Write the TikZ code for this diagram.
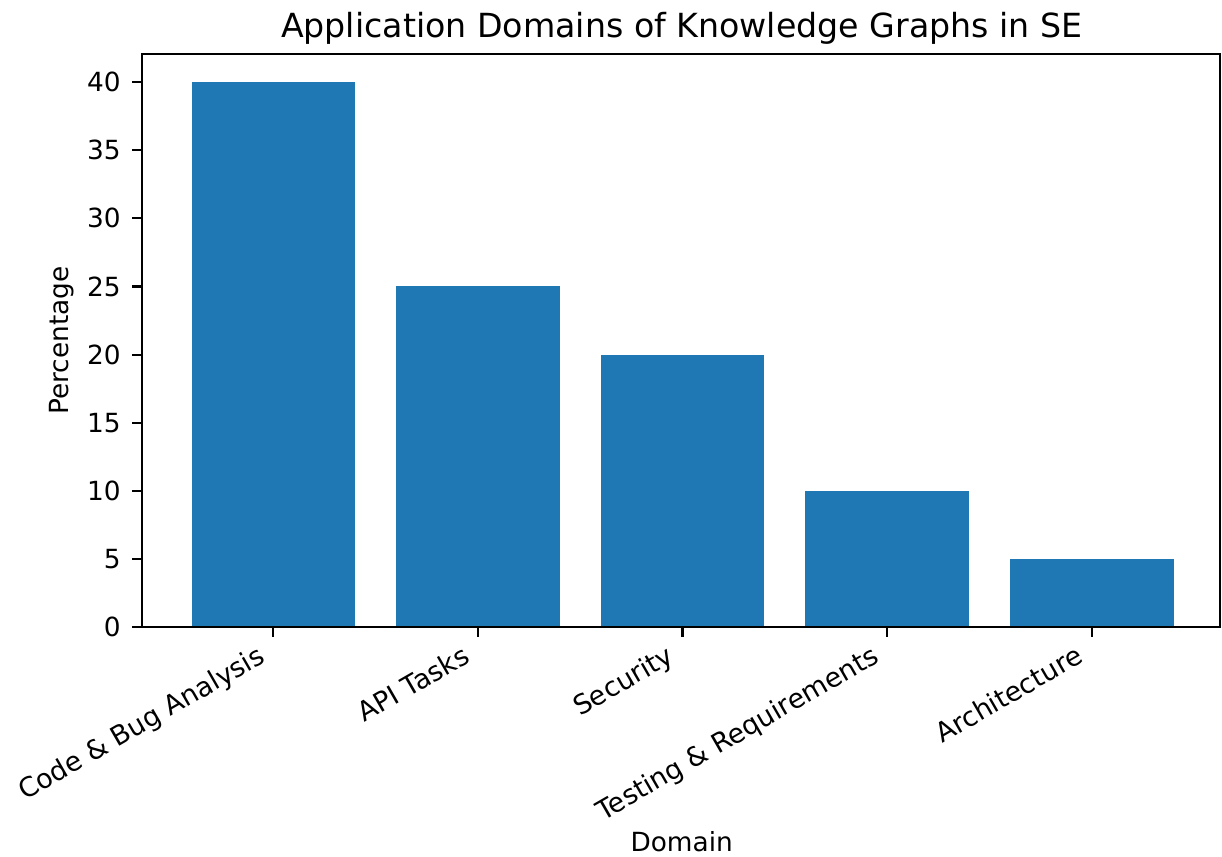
\documentclass[tikz,border=0pt]{standalone}
\usepackage{fontspec}
\setmainfont{DejaVu Sans}
\usepackage{xcolor}
\usetikzlibrary{positioning}
\definecolor{barblue}{HTML}{1F77B4}
\definecolor{axisink}{HTML}{000000}

\begin{document}
\begin{tikzpicture}[
  bar/.style={fill=barblue, draw=none},
  spine/.style={draw=axisink, line width=1.2pt},
  tick/.style={draw=axisink, line width=1.2pt},
  ylbl/.style={font=\fontsize{15}{18}\selectfont, anchor=east, inner sep=0pt},
  xlbl/.style={font=\fontsize{15.3}{18}\selectfont, anchor=north east, rotate=30, inner sep=0pt, text height=0.78em, text depth=0.24em},
  axlbl/.style={font=\fontsize{15}{18}\selectfont, inner sep=0pt},
  titlelbl/.style={font=\fontsize{18.9}{22}\selectfont, inner sep=0pt}
]
  \useasboundingbox (0, 0) rectangle (24.44, 17.14);

  % bars
  \fill[bar] (3.830, 4.6) rectangle (7.102, 15.496);
  \fill[bar] (7.922, 4.6) rectangle (11.194, 11.410);
  \fill[bar] (12.014, 4.6) rectangle (15.286, 10.048);
  \fill[bar] (16.106, 4.6) rectangle (19.378, 7.324);
  \fill[bar] (20.198, 4.6) rectangle (23.470, 5.962);

  % frame
  \draw[spine] (2.848, 4.6) rectangle (24.40, 16.06);

  % y ticks
  \draw[tick] (2.648, 4.600) -- (2.848, 4.600);
  \draw[tick] (2.648, 5.962) -- (2.848, 5.962);
  \draw[tick] (2.648, 7.324) -- (2.848, 7.324);
  \draw[tick] (2.648, 8.686) -- (2.848, 8.686);
  \draw[tick] (2.648, 10.048) -- (2.848, 10.048);
  \draw[tick] (2.648, 11.410) -- (2.848, 11.410);
  \draw[tick] (2.648, 12.772) -- (2.848, 12.772);
  \draw[tick] (2.648, 14.134) -- (2.848, 14.134);
  \draw[tick] (2.648, 15.496) -- (2.848, 15.496);
  \node[ylbl] (y0) at (2.42, 4.600) {0};
  \node[ylbl] (y5) at (2.42, 5.962) {5};
  \node[ylbl] (y10) at (2.42, 7.324) {10};
  \node[ylbl] (y15) at (2.42, 8.686) {15};
  \node[ylbl] (y20) at (2.42, 10.048) {20};
  \node[ylbl] (y25) at (2.42, 11.410) {25};
  \node[ylbl] (y30) at (2.42, 12.772) {30};
  \node[ylbl] (y35) at (2.42, 14.134) {35};
  \node[ylbl] (y40) at (2.42, 15.496) {40};

  % x ticks
  \draw[tick] (5.466, 4.6) -- (5.466, 4.4);
  \draw[tick] (9.558, 4.6) -- (9.558, 4.4);
  \draw[tick] (13.650, 4.6) -- (13.650, 4.4);
  \draw[tick] (17.742, 4.6) -- (17.742, 4.4);
  \draw[tick] (21.834, 4.6) -- (21.834, 4.4);
  \node[xlbl] (codebug) at (5.196, 4.16) {Code \& Bug Analysis};
  \node[xlbl] (apitasks) at (9.288, 4.16) {API Tasks};
  \node[xlbl] (security) at (13.380, 4.16) {Security};
  \node[xlbl] (testreq) at (17.472, 4.16) {Testing \& Requirements};
  \node[xlbl] (archi) at (21.564, 4.16) {Architecture};

  % axis labels and title
  \node[axlbl, rotate=90] (ylabel) at (1.24, 10.33) {Percentage};
  \node[axlbl] (xlabel) at (13.634, 0.30) {Domain};
  \node[titlelbl] (title) at (13.634, 16.58) {Application Domains of Knowledge Graphs in SE};
\end{tikzpicture}
\end{document}
